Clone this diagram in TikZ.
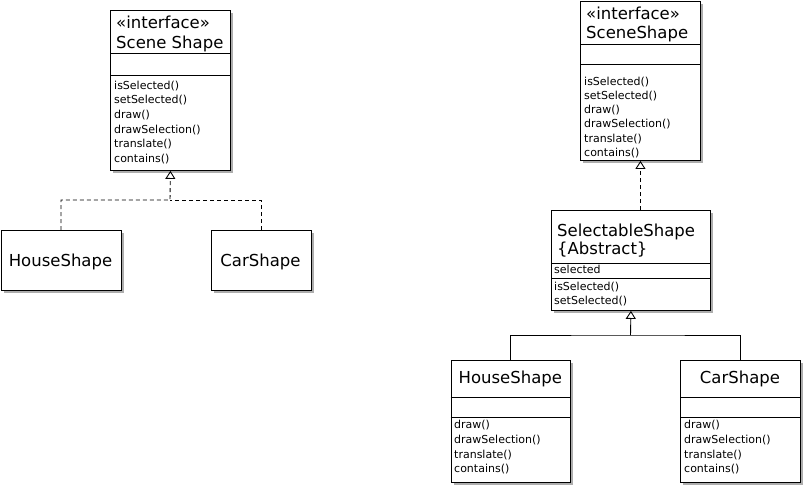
\documentclass[tikz,border=0pt]{standalone}
\usepackage{fontspec}
\setmainfont{DejaVu Sans}
\usetikzlibrary{arrows.meta,shadows}
\tikzset{
  cls/.style={draw=black, line width=0.9pt, fill=white, inner sep=0pt, anchor=north west,
    drop shadow={shadow xshift=3pt, shadow yshift=-3pt, fill=black!32, opacity=1}},
  sep/.style={draw=black, line width=0.9pt},
  ttl/.style={inner sep=0pt, font=\fontsize{16.5}{19}\selectfont},
  mtxt/.style={inner sep=0pt, anchor=base west, font=\fontsize{11}{13}\selectfont},
  conn/.style={draw=black, line width=0.9pt},
  realize/.style={conn, dashed, dash pattern=on 4pt off 3pt},
  gen/.style={-{Triangle[open, length=8pt, width=10pt, line width=0.9pt]}}
}
\begin{document}
\begin{tikzpicture}[x=1pt,y=-1pt]
\useasboundingbox (0,0) rectangle (805,485);

% ---------- Left diagram ----------
\node[cls, minimum width=120pt, minimum height=160pt] (iface1) at (110,10) {};
\draw[sep] (110,53) -- (230,53);
\draw[sep] (110,75) -- (230,75);
\node[ttl, anchor=base west] (iface1s) at (116,28) {«interface»};
\node[ttl, anchor=base west] (iface1n) at (116,48) {Scene Shape};
\foreach \t [count=\i] in {isSelected(),setSelected(),draw(),drawSelection(),translate(),contains()}
  \node[mtxt] (iface1m\i) at (114,{89+14.7*(\i-1)}) {\t};

\node[cls, minimum width=120pt, minimum height=60pt] (house1) at (0.5,230) {};
\node[ttl, anchor=base] (house1n) at (60.5,266.5) {HouseShape};
\node[cls, minimum width=100pt, minimum height=60pt] (car1) at (210.5,230) {};
\node[ttl, anchor=base] (car1n) at (260.5,266.5) {CarShape};

\coordinate (j1) at (170,200);
\draw[realize, gen] (house1.north) |- (j1) -- (iface1.south);
\draw[realize] (car1.north) |- (j1);

% ---------- Right diagram ----------
\node[cls, minimum width=120pt, minimum height=159pt] (iface2) at (580,1) {};
\draw[sep] (580,44) -- (700,44);
\draw[sep] (580,64.5) -- (700,64.5);
\node[ttl, anchor=base west] (iface2s) at (586,19) {«interface»};
\node[ttl, anchor=base west] (iface2n) at (586,38.5) {SceneShape};
\foreach \t [count=\i] in {isSelected(),setSelected(),draw(),drawSelection(),translate(),contains()}
  \node[mtxt] (iface2m\i) at (584,{85+14.3*(\i-1)}) {\t};

\node[cls, minimum width=159pt, minimum height=100pt] (sel) at (551,210) {};
\draw[sep] (551,263) -- (710,263);
\draw[sep] (551,278.5) -- (710,278.5);
\node[ttl, anchor=base west] (seln) at (557,236.5) {SelectableShape};
\node[ttl, anchor=base west] (sela) at (557,254) {\{Abstract\}};
\node[mtxt] (selattr) at (554,273.5) {selected};
\node[mtxt] (selm1) at (554,290) {isSelected()};
\node[mtxt] (selm2) at (554,304.5) {setSelected()};

\node[cls, minimum width=119.5pt, minimum height=122pt] (house2) at (450.5,360) {};
\draw[sep] (450.5,397) -- (570,397);
\draw[sep] (450.5,417) -- (570,417);
\node[ttl, anchor=base] (house2n) at (510.3,383.5) {HouseShape};
\foreach \t [count=\i] in {draw(),drawSelection(),translate(),contains()}
  \node[mtxt] (house2m\i) at (454,{428.5+14.8*(\i-1)}) {\t};

\node[cls, minimum width=120pt, minimum height=122pt] (car2) at (680,360) {};
\draw[sep] (680,397) -- (800,397);
\draw[sep] (680,417) -- (800,417);
\node[ttl, anchor=base] (car2n) at (740,383.5) {CarShape};
\foreach \t [count=\i] in {draw(),drawSelection(),translate(),contains()}
  \node[mtxt] (car2m\i) at (684,{428.5+14.8*(\i-1)}) {\t};

\draw[realize, gen] (iface2.south |- sel.north) -- (iface2.south);
\coordinate (j2) at (630.5,335);
\draw[conn, gen] (j2) -- (sel.south);
\draw[conn] (house2.north) |- (j2) -| (car2.north);
\end{tikzpicture}
\end{document}
